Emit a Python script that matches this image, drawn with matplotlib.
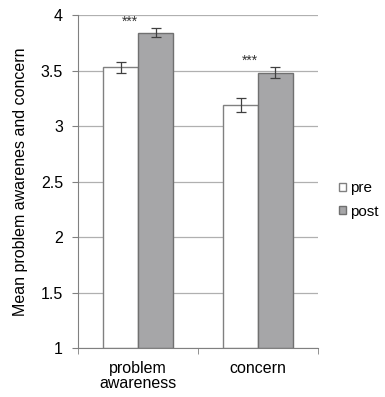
import numpy as np
import matplotlib.pyplot as plt

plt.rcParams['font.family'] = ['Liberation Sans', 'DejaVu Sans']

categories = ["problem\nawareness", "concern"]
pre_means = [3.53, 3.19]
pre_err = [0.05, 0.06]
post_means = [3.84, 3.48]
post_err = [0.04, 0.05]
stars = ["***", "***"]


def main():
  fig = plt.figure(figsize=(3.85, 3.97), dpi=100)
  ax = fig.add_axes([0.203, 0.123, 0.623, 0.839])

  x = np.arange(len(categories))
  w = 0.29
  ekw = dict(ecolor="#404040", elinewidth=0.9, capsize=3.5, capthick=0.9)
  ax.bar(x - w/2, np.array(pre_means) - 1, w, bottom=1, color="white",
         edgecolor="#808080", linewidth=1, label="pre", zorder=2,
         yerr=pre_err, error_kw=ekw)
  ax.bar(x + w/2, np.array(post_means) - 1, w, bottom=1, color="#a6a6a8",
         edgecolor="#707070", linewidth=1, label="post", zorder=2,
         yerr=post_err, error_kw=ekw)

  # significance stars
  for i, s in enumerate(stars):
    top = max(pre_means[i] + pre_err[i], post_means[i] + post_err[i])
    ax.text(x[i] - 0.07, top + 0.06, s, ha="center", va="center",
            fontsize=10, color="#333333")

  ax.set_xlim(-0.5, len(categories) - 0.5)
  ax.set_ylim(1, 4)
  ax.set_yticks([1, 1.5, 2, 2.5, 3, 3.5, 4])
  ax.set_yticklabels(["1", "1.5", "2", "2.5", "3", "3.5", "4"])
  ax.yaxis.grid(True, color="#b0b0b0", linewidth=0.9, zorder=0)
  ax.set_axisbelow(True)

  ax.set_xticks(x)
  ax.set_xticklabels(categories, fontsize=11.5, linespacing=1.05)
  ax.set_xticks([-0.5, 0.5, 1.5], minor=True)
  ax.tick_params(axis="x", which="major", length=0, pad=9)
  ax.tick_params(axis="x", which="minor", length=4, color="#808080",
                 direction="out")
  ax.tick_params(axis="y", length=4, color="#808080", labelsize=11.5,
                 direction="out", pad=7)

  for sp in ["top", "right"]:
    ax.spines[sp].set_visible(False)
  for sp in ["left", "bottom"]:
    ax.spines[sp].set_color("#808080")

  ax.set_ylabel("Mean problem awarenes and concern", fontsize=11.5,
                labelpad=9)

  ax.legend(loc="center left", bbox_to_anchor=(1.0, 0.445), frameon=False,
            fontsize=11, handlelength=0.45, handleheight=0.45,
            handletextpad=0.25, labelspacing=0.6, borderaxespad=1.0)

  fig.savefig("out.png", dpi=100)


if __name__ == "__main__":
  main()
